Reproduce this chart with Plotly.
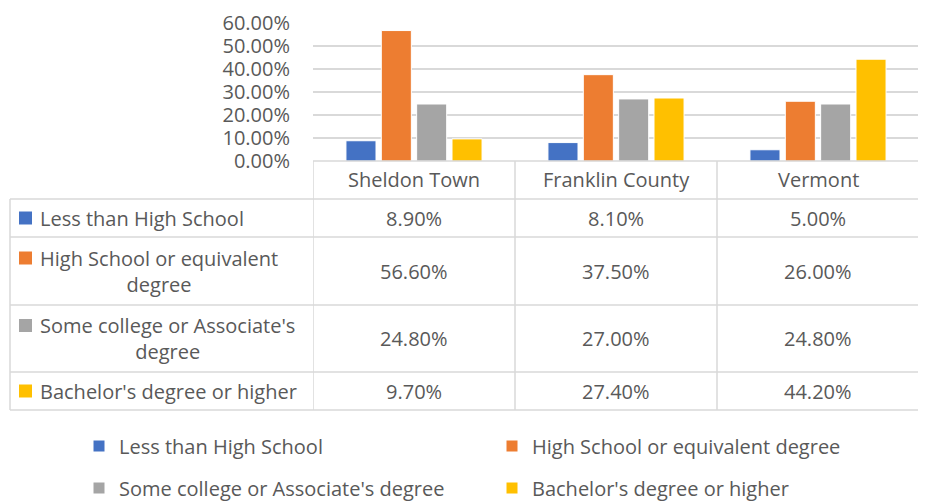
import plotly.graph_objects as go

# education attainment shares
categories = ["Sheldon Town", "Franklin County", "Vermont"]
series_names = ["Less than High School", "High School or equivalent degree",
                "Some college or Associate's degree", "Bachelor's degree or higher"]
table_labels = ["Less than High School", "High School or equivalent<br>degree",
                "Some college or Associate's<br>degree", "Bachelor's degree or higher"]
less_than_hs = [0.089, 0.081, 0.050]
high_school = [0.566, 0.375, 0.260]
some_college = [0.248, 0.270, 0.248]
bachelors = [0.097, 0.274, 0.442]
y_ticks = [0.0, 0.1, 0.2, 0.3, 0.4, 0.5, 0.6]

colors = ["#4472C4", "#ED7D31", "#A5A5A5", "#FFC000"]
text_color = "#595959"
line_color = "#D9D9D9"
font = "Open Sans"

W, H = 926, 502
PAGE_OFFSET = 8  # default body margin of the html page


def px(x):
    return (x - PAGE_OFFSET) / W


def py(y):
    return 1 - (y - PAGE_OFFSET) / H


plot_left, plot_right = 313, 919
plot_top, plot_bottom = 22.7, 161.3
table_left = 10
row_edges = [161, 199, 237, 305, 372, 410]

all_series = [less_than_hs, high_school, some_college, bachelors]

fig = go.Figure()
for i, (name, vals) in enumerate(zip(series_names, all_series)):
    fig.add_trace(go.Bar(
        x=categories, y=vals, name=name,
        marker=dict(color=colors[i], line=dict(color="white", width=1)),
        legend="legend" if i < 2 else "legend2",
    ))

shapes = []
# header row top border + outer lines
shapes.append(dict(type="line", xref="paper", yref="paper",
                   x0=px(plot_left), x1=px(plot_right), y0=py(row_edges[0]), y1=py(row_edges[0])))
for y in row_edges[1:]:
    shapes.append(dict(type="line", xref="paper", yref="paper",
                       x0=px(table_left), x1=px(plot_right), y0=py(y), y1=py(y)))
shapes.append(dict(type="line", xref="paper", yref="paper",
                   x0=px(table_left), x1=px(table_left), y0=py(row_edges[1]), y1=py(row_edges[-1])))
for xv in [-0.5, 0.5, 1.5, 2.5]:
    shapes.append(dict(type="line", xref="x", yref="paper",
                       x0=xv, x1=xv, y0=py(row_edges[0]), y1=py(row_edges[-1])))
for s in shapes:
    s["line"] = dict(color=line_color, width=1.5)

annotations = []
# header: category names
for c in categories:
    annotations.append(dict(x=c, xref="x", y=py((row_edges[0] + row_edges[1]) / 2), yref="paper",
                            text=c, showarrow=False, xanchor="center", yanchor="middle"))

# data rows
for r, (label, vals) in enumerate(zip(table_labels, all_series)):
    top, bot = row_edges[r + 1], row_edges[r + 2]
    mid = (top + bot) / 2
    n_lines = label.count("<br>") + 1
    annotations.append(dict(x=px(38), xref="paper", y=py(mid), yref="paper", text=label,
                            showarrow=False, xanchor="left", yanchor="middle", align="center"))
    key_mid = mid - (n_lines - 1) * 13
    shapes.append(dict(type="rect", xref="paper", yref="paper",
                       x0=px(19), x1=px(32), y0=py(key_mid - 6.5), y1=py(key_mid + 6.5),
                       fillcolor=colors[r], line=dict(width=0)))
    for c, v in zip(categories, vals):
        annotations.append(dict(x=c, xref="x", y=py(mid), yref="paper", text=f"{v * 100:.2f}%",
                                showarrow=False, xanchor="center", yanchor="middle"))

legend_style = dict(orientation="h", x=px(79), xanchor="left", yanchor="middle",
                    entrywidth=368, entrywidthmode="pixels", bgcolor="rgba(0,0,0,0)",
                    font=dict(family=font, size=20, color=text_color), itemclick=False,
                    itemdoubleclick=False)

fig.update_layout(
    width=W, height=H,
    margin=dict(l=0, r=0, t=0, b=0, autoexpand=False),
    paper_bgcolor="white", plot_bgcolor="white",
    font=dict(family=font, size=20, color=text_color),
    barmode="group", bargap=0.3, bargroupgap=0.15,
    showlegend=True,
    legend=dict(legend_style, y=py(446)),
    legend2=dict(legend_style, y=py(488)),
    xaxis=dict(domain=[px(plot_left), px(plot_right)], range=[-0.5, 2.5], automargin=False,
               showticklabels=False, showgrid=False, zeroline=False, showline=False),
    yaxis=dict(domain=[py(plot_bottom), py(plot_top)], range=[0, 0.6], automargin=False,
               tickvals=y_ticks, tickformat=".2%", showgrid=True, gridcolor=line_color,
               gridwidth=1.5, zeroline=False, showline=False, ticks="",
               ticklabelstandoff=22, tickfont=dict(family=font, size=20, color=text_color)),
    shapes=shapes,
    annotations=annotations,
)

fig.write_html("out.html")
